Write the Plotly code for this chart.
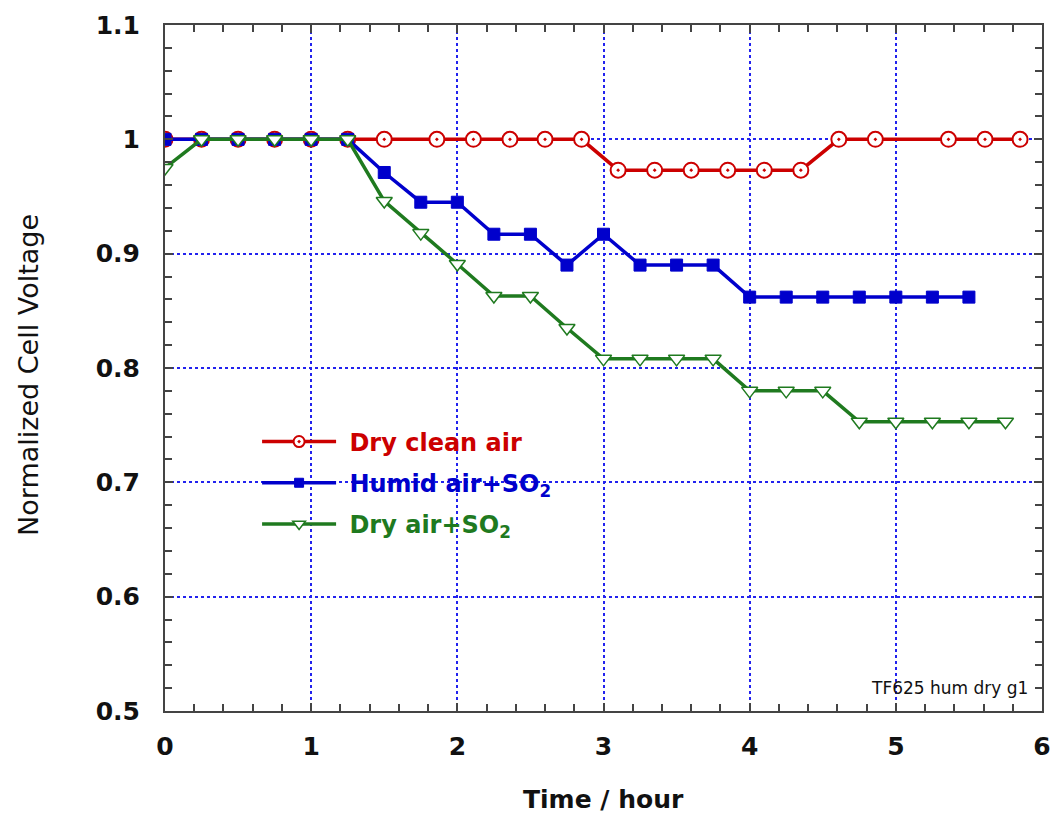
import plotly.graph_objects as go

# ---- data ----
clean_time = [0, 0.25, 0.5, 0.75, 1.0, 1.25, 1.5, 1.86, 2.11, 2.36, 2.6, 2.85,
              3.1, 3.35, 3.6, 3.85, 4.1, 4.35, 4.61, 4.86, 5.36, 5.61, 5.85]
clean_volt = [1, 1, 1, 1, 1, 1, 1, 1, 1, 1, 1, 1,
              0.973, 0.973, 0.973, 0.973, 0.973, 0.973, 1, 1, 1, 1, 1]

humid_time = [0, 0.25, 0.5, 0.75, 1.0, 1.25, 1.5, 1.75, 2.0, 2.25, 2.5, 2.75,
              3.0, 3.25, 3.5, 3.75, 4.0, 4.25, 4.5, 4.75, 5.0, 5.25, 5.5]
humid_volt = [1, 1, 1, 1, 1, 1, 0.971, 0.945, 0.945, 0.917, 0.917, 0.890,
              0.917, 0.890, 0.890, 0.890, 0.862, 0.862, 0.862, 0.862, 0.862, 0.862, 0.862]

dry_time = [0, 0.25, 0.5, 0.75, 1.0, 1.25, 1.5, 1.75, 2.0, 2.25, 2.5, 2.75,
            3.0, 3.25, 3.5, 3.75, 4.0, 4.25, 4.5, 4.75, 5.0, 5.25, 5.5, 5.75]
dry_volt = [0.975, 1, 1, 1, 1, 1, 0.946, 0.918, 0.891, 0.863, 0.863, 0.835,
            0.808, 0.808, 0.808, 0.808, 0.780, 0.780, 0.780, 0.753, 0.753, 0.753, 0.753, 0.753]

series_names = ["Dry clean air", "Humid air+SO<sub>2</sub>", "Dry air+SO<sub>2</sub>"]

x_ticks = [0, 1, 2, 3, 4, 5, 6]
y_ticks = [0.5, 0.6, 0.7, 0.8, 0.9, 1.0, 1.1]
y_tick_text = ["0.5", "0.6", "0.7", "0.8", "0.9", "1", "1.1"]

RED = "#cc0000"
BLUE = "#0000cc"
GREEN = "#1f7a1f"
NB = "\u00a0"

styles = [
    dict(color=RED, symbol="circle-dot", size=15, fill="white", lw=2, leg_size=11),
    dict(color=BLUE, symbol="square", size=12, fill=BLUE, lw=1, leg_size=9),
    dict(color=GREEN, symbol="triangle-down", size=14, fill="white", lw=1.5, leg_size=11),
]
data = [(clean_time, clean_volt), (humid_time, humid_volt), (dry_time, dry_volt)]

fig = go.Figure()
for (xs, ys), name, st in zip(data, series_names, styles):
    fig.add_trace(go.Scatter(
        x=xs, y=ys, mode="lines+markers", showlegend=False,
        line=dict(color=st["color"], width=3.5),
        marker=dict(symbol=st["symbol"], size=st["size"], color=st["fill"],
                    line=dict(color=st["color"], width=st["lw"])),
    ))

# legend entries (legend-only proxies with smaller symbols, as in the reference)
for i, (name, st) in enumerate(zip(series_names, styles)):
    fig.add_trace(go.Scatter(
        x=[None], y=[None], mode="lines+markers",
        name=f"<span style='color:{st['color']}'>{NB}{name}</span>",
        legendgroup=f"g{i}",
        line=dict(color=st["color"], width=3.5),
        marker=dict(symbol=st["symbol"], size=st["leg_size"], color=st["fill"],
                    line=dict(color=st["color"], width=st["lw"])),
    ))

axis_common = dict(
    showline=True, linecolor="#444444", linewidth=2, mirror="ticks",
    ticks="inside", ticklen=8, tickwidth=2, tickcolor="#444444",
    showgrid=True, gridcolor="#2222ee", gridwidth=1.6, griddash="dot",
    zeroline=False,
    tickfont=dict(family="DejaVu Sans", size=25, color="#111111", weight="bold"),
)

fig.update_xaxes(
    range=[0, 6], tickvals=x_ticks, ticklabelstandoff=12,
    minor=dict(dtick=0.2, ticks="inside", ticklen=7, tickwidth=2,
               tickcolor="#444444", showgrid=False),
    **axis_common,
)
fig.update_yaxes(
    range=[0.5, 1.1], tickvals=y_ticks, ticktext=y_tick_text,
    ticklabelstandoff=18,
    minor=dict(dtick=0.02, ticks="inside", ticklen=7, tickwidth=2,
               tickcolor="#444444", showgrid=False),
    **axis_common,
)

fig.add_annotation(text="Time / hour", xref="paper", yref="paper",
                   x=0.5, y=-0.129, xanchor="center", yanchor="middle",
                   showarrow=False,
                   font=dict(family="DejaVu Sans", size=25, color="#111111", weight="bold"))
fig.add_annotation(text="Normalized Cell Voltage", xref="paper", yref="paper",
                   x=-0.155, y=0.49, xanchor="center", yanchor="middle",
                   textangle=-90, showarrow=False,
                   font=dict(family="DejaVu Sans", size=27, color="#111111"))
fig.add_annotation(text="TF625 hum dry g1", xref="paper", yref="paper",
                   x=0.986, y=0.033, xanchor="right", yanchor="middle",
                   showarrow=False,
                   font=dict(family="DejaVu Sans", size=17, color="#111111"))

fig.update_layout(
    width=1062, height=825,
    margin=dict(l=165, r=11, t=23, b=114),
    paper_bgcolor="white", plot_bgcolor="white",
    showlegend=True,
    legend=dict(x=0.105, y=0.425, xanchor="left", yanchor="top",
                bgcolor="rgba(0,0,0,0)", itemwidth=74, itemsizing="trace",
                traceorder="grouped", tracegroupgap=7,
                font=dict(family="DejaVu Sans", size=24, weight="bold")),
)

fig.write_html("out.html")
